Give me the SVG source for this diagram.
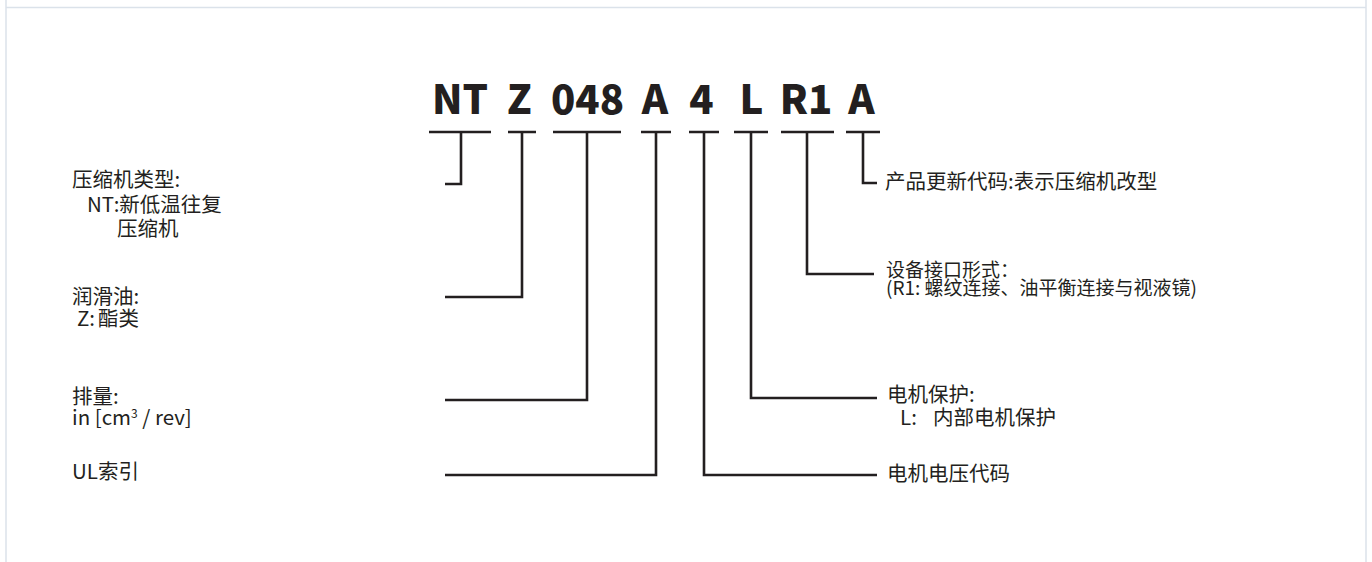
<svg xmlns="http://www.w3.org/2000/svg" width="1372" height="562" viewBox="0 0 1372 562">
<style>
.frame{stroke:#dbe2ea;stroke-width:1.5;fill:none}
.ln{stroke:#231f20;stroke-width:2.6;fill:none;stroke-linecap:butt;stroke-linejoin:miter}
.code{font-family:"Noto Sans CJK SC","Liberation Sans",sans-serif;font-weight:900;font-size:40px;fill:#231f20;text-anchor:middle}
.lb{font-family:"Noto Sans CJK SC","Liberation Sans",sans-serif;font-size:20.5px;fill:#231f20}
.lb2{font-family:"Noto Sans CJK SC","Liberation Sans",sans-serif;font-size:19px;fill:#231f20}
</style>
<rect width="1372" height="562" fill="#ffffff"/>
<g id="frame">
<line class="frame" x1="6" y1="7.5" x2="1366" y2="7.5"/>
<line class="frame" x1="6" y1="0" x2="6" y2="562"/>
<line class="frame" x1="1366" y1="0" x2="1366" y2="562"/>
</g>
<g id="code">
<text class="code" x="460" y="114">NT</text>
<text class="code" x="519.5" y="114">Z</text>
<text class="code" x="587.5" y="114">048</text>
<text class="code" x="655" y="114">A</text>
<text class="code" x="701.5" y="114">4</text>
<text class="code" x="751.5" y="114">L</text>
<text class="code" x="806" y="114">R1</text>
<text class="code" x="861.5" y="114">A</text>
</g>
<g id="underlines">
<path class="ln" d="M429 132H491M508 132H536M553 132H621M641 132H671M689 132H719M734 132H768M781 132H834M846 132H880"/>
</g>
<g id="connectors">
<path class="ln" d="M461 132V184H445"/>
<path class="ln" d="M522 132V297H445"/>
<path class="ln" d="M587 132V400H445"/>
<path class="ln" d="M656 132V475H445"/>
<path class="ln" d="M704 132V475H877"/>
<path class="ln" d="M751 132V398H877"/>
<path class="ln" d="M807 132V274H874"/>
<path class="ln" d="M863 132V183H877"/>
</g>
<g id="node-type">
<text class="lb"><tspan x="72" y="187">压缩机类型:</tspan><tspan x="87" y="212">NT:新低温往复</tspan><tspan x="117" y="236">压缩机</tspan></text>
</g>
<g id="node-oil">
<text class="lb"><tspan x="72" y="304">润滑油:</tspan><tspan x="77" y="326">Z:</tspan><tspan x="98" y="326">酯类</tspan></text>
</g>
<g id="node-displacement">
<text class="lb"><tspan x="72" y="404">排量:</tspan><tspan x="72" y="425">in [cm</tspan><tspan font-size="12" dy="-7">3</tspan><tspan dy="7"> / rev]</tspan></text>
</g>
<g id="node-ul">
<text class="lb" x="72" y="479">UL索引</text>
</g>
<g id="node-update">
<text class="lb" x="885" y="189">产品更新代码:表示压缩机改型</text>
</g>
<g id="node-interface">
<text class="lb2"><tspan x="886" y="277">设备接口形式：</tspan><tspan x="886" y="295">(R1: 螺纹连接、油平衡连接与视液镜)</tspan></text>
</g>
<g id="node-motor-protection">
<text class="lb"><tspan x="887" y="402">电机保护:</tspan><tspan x="900" y="425">L:</tspan><tspan x="933" y="425">内部电机保护</tspan></text>
</g>
<g id="node-voltage">
<text class="lb" x="887" y="481">电机电压代码</text>
</g>
</svg>
